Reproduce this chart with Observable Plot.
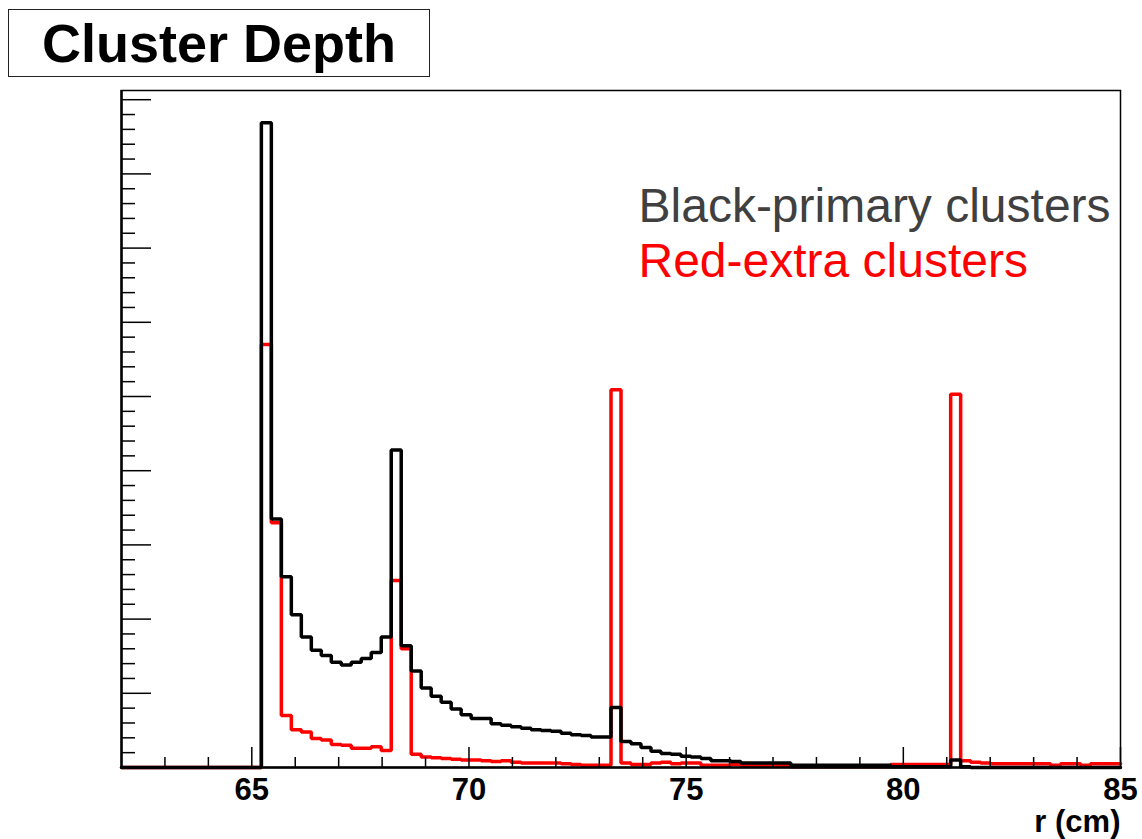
<!DOCTYPE html>
<html>
<head>
<meta charset="utf-8">
<script src="https://cdn.jsdelivr.net/npm/d3@7"></script>
<script src="https://cdn.jsdelivr.net/npm/@observablehq/plot@0.6"></script>
<style>
  html, body { margin: 0; padding: 0; background: #fff; }
  #wrap { position: relative; width: 1142px; height: 839px; }
  #title {
    position: absolute; left: 8px; top: 9px; width: 420px; height: 66px;
    border: 1.5px solid #222; background: #fff;
    font-family: "Liberation Sans", Arial, sans-serif; font-weight: bold;
    font-size: 54px; line-height: 66px; text-align: center; color: #000;
  }
</style>
</head>
<body>
<div id="wrap"><div id="title">Cluster Depth</div></div>
<script>
// Histogram: 100 bins from 62 to 85 cm (bin width 0.23 cm)
const xMin = 62, xMax = 85, nBins = 100;
const blackPrimary = [
  0,0,0,0,0,0,0,0,0,0,
  0,0,0,0,869,335,257,206,176,158,
  151,142,138,142,147,155,176,428,164,130,
  107,96,88,79,71,66,66,59,57,55,
  53,51,50,49,46,44,43,41,41,81,
  35,32,27,22,19,18,15,14,12,9,
  9,8,6,6,6,6,6,3,3,3,
  3,3,3,3,3,3,3,1,1,1,
  1,1,1,10,1,0,0,0,0,0,
  0,0,0,0,0,0,0,0,0,0
];
const redExtra = [
  0,0,0,0,0,0,0,0,0,0,
  0,0,0,0,570,330,70,51,48,39,
  37,31,30,26,26,28,23,252,160,18,
  14,13,12,11,10,10,9,8,9,7,
  6,6,6,6,5,4,3,3,3,509,
  6,4,4,6,7,5,6,6,3,3,
  3,4,3,3,3,3,3,1,1,1,
  1,1,1,1,1,1,1,4,4,4,
  4,4,4,503,9,7,6,5,5,5,
  5,5,5,3,5,5,3,5,5,5
];
const xMajor = [65, 70, 75, 80, 85];
const xMinor = [63, 64, 66, 67, 68, 69, 71, 72, 73, 74, 76, 77, 78, 79, 81, 82, 83, 84];
const yMajor = [100, 200, 300, 400, 500, 600, 700, 800, 900];
const yMinor = d3.range(20, 912, 20).filter(v => v % 100 !== 0);
const legendBlack = ["Black-primary clusters"];
const legendRed = ["Red-extra clusters"];
const axisTitle = ["r (cm)"];

const bw = (xMax - xMin) / nBins;
const steps = vals => vals.map((v, i) => ({x: xMin + bw * i, y: v})).concat([{x: xMax, y: vals[vals.length - 1]}]);

const W = 1142, H = 839, mT = 90, mR = 22, mB = 72, mL = 121;
const fw = W - mL - mR, fh = H - mT - mB;
const font = "Liberation Sans, Arial, sans-serif";

const chart = Plot.plot({
  width: W, height: H,
  marginTop: mT, marginRight: mR, marginBottom: mB, marginLeft: mL,
  style: {fontFamily: font, background: "#fff", overflow: "visible"},
  x: {domain: [xMin, xMax], axis: null},
  y: {domain: [0, 912.4], axis: null},
  marks: [
    Plot.lineY(steps(redExtra), {x: "x", y: "y", curve: "step-after", stroke: "#ff0000", strokeWidth: 3.5, strokeLinejoin: "miter"}),
    Plot.lineY(steps(blackPrimary), {x: "x", y: "y", curve: "step-after", stroke: "#000", strokeWidth: 3.5, strokeLinejoin: "miter"}),
    Plot.tickX(xMajor, {x: d => d, insetTop: fh - 20, stroke: "#000", strokeWidth: 1.5}),
    Plot.tickX(xMinor, {x: d => d, insetTop: fh - 10, stroke: "#000", strokeWidth: 1.5}),
    Plot.tickY(yMajor, {y: d => d, insetRight: fw - 30, stroke: "#000", strokeWidth: 1.5}),
    Plot.tickY(yMinor, {y: d => d, insetRight: fw - 14, stroke: "#000", strokeWidth: 1.5}),
    Plot.frame({stroke: "#000", strokeWidth: 1.5}),
    Plot.ruleY([0], {stroke: "#000", strokeWidth: 2.5}),
    Plot.ruleX([xMin], {stroke: "#000", strokeWidth: 2.5}),
    Plot.axisX(xMajor, {tickSize: 0, tickPadding: 10, fontSize: 31, fontWeight: "bold", fill: "#000", label: null, tickFormat: d => String(d)}),
    Plot.text(axisTitle, {text: d => d, frameAnchor: "bottom-right", textAnchor: "end", lineAnchor: "top", dy: 42, fontSize: 31, fontWeight: "bold", fill: "#000"}),
    Plot.text(legendBlack, {text: d => d, frameAnchor: "top-left", textAnchor: "start", lineAnchor: "top", dx: 517, dy: 97, fontSize: 48, fill: "#404040"}),
    Plot.text(legendRed, {text: d => d, frameAnchor: "top-left", textAnchor: "start", lineAnchor: "top", dx: 517, dy: 152, fontSize: 48, fill: "#ff0000"})
  ]
});
chart.style.position = "absolute";
chart.style.left = "0px";
chart.style.top = "0px";
const wrap = document.getElementById("wrap");
wrap.insertBefore(chart, wrap.firstChild);
</script>
</body>
</html>
